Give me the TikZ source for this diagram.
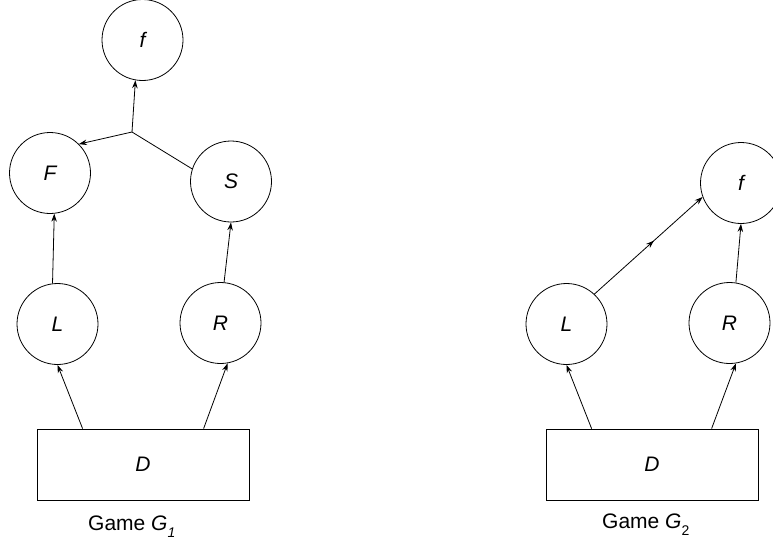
\documentclass[tikz,border=0pt]{standalone}
\usepackage{fontspec}
\setmainfont{Liberation Sans}
\usetikzlibrary{arrows.meta,decorations.markings}
\newcommand{\lowsub}[1]{\raisebox{-7pt}{\fontsize{14}{14}\selectfont #1}}
\begin{document}
\begin{tikzpicture}[x=1pt,y=-1pt,
  every node/.style={font=\fontsize{21}{25}\selectfont\itshape},
  var/.style={draw,circle,minimum size=81pt,inner sep=0pt,line width=0.8pt},
  dom/.style={draw,rectangle,minimum width=212pt,minimum height=71pt,inner sep=0pt,line width=0.8pt},
  caption/.style={font=\fontsize{21}{25}\selectfont\upshape,anchor=base west,inner sep=0pt},
  link/.style={line width=0.8pt,-{Stealth[length=8pt,width=5.5pt]}},
  plain/.style={line width=0.8pt},
  midarrow/.style={postaction={decorate},decoration={markings,
    mark=at position 0.55 with {\arrow{Stealth[length=8pt,width=5.5pt]}}}}
]
\useasboundingbox (0,0) rectangle (773,544);

% Game G1
\node[var] (f1) at (142.5,40) {f};
\node[var] (F1) at (50,173) {F};
\node[var] (S1) at (231,181.5) {S};
\node[var] (L1) at (57.5,324) {L};
\node[var] (R1) at (220.5,323) {R};
\node[dom] (D1) at (143,464.5) {D};
\coordinate (J) at (132,132);

\draw[link] ([xshift=46pt]D1.north west) -- (L1.south);
\draw[link] ([xshift=167pt]D1.north west) -- (R1.-80);
\draw[link] (L1.97) -- (F1.-84);
\draw[link] (R1.85) -- (S1.south);
\draw[plain] (S1.162) -- (J);
\draw[link] (J) -- (F1.45);
\draw[link] (J) -- (f1.-100);

\node[caption] (c1) at (88,530.7) {Game \textit{G}\lowsub{\itshape 1}};

% Game G2
\node[var] (f2) at (741,183) {f};
\node[var] (L2) at (566.5,324) {L};
\node[var] (R2) at (729.5,323) {R};
\node[dom] (D2) at (652,464.5) {D};

\draw[link] ([xshift=46pt]D2.north west) -- (L2.south);
\draw[link] ([xshift=166pt]D2.north west) -- (R2.-81);
\draw[link,midarrow] (L2.47) -- (f2.200);
\draw[link] (R2.81) -- (f2.south);

\node[caption] (c2) at (602,528) {Game \textit{G}\lowsub{2}};
\end{tikzpicture}
\end{document}
